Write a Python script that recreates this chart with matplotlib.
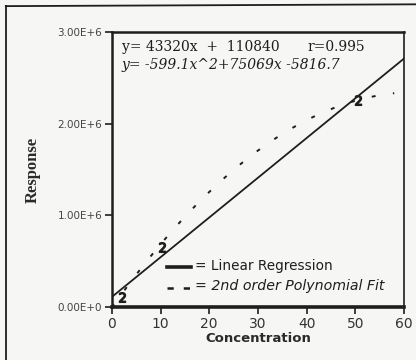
import numpy as np
import matplotlib
matplotlib.use('AGG')
import matplotlib.pyplot as plt
from matplotlib.lines import Line2D

# fit coefficients, as printed on the chart
lin_coef = [43320, 110840]
quad_coef = [-599.1, 75069, -5816.7]
r_value = 0.995

conc = [2.0, 10.3, 50.5]
resp = [0.11e6, 0.65e6, 2.26e6]

x_ticks = [0, 10, 20, 30, 40, 50, 60]
y_ticks = [0, 1e6, 2e6, 3e6]
y_labels = ['0.00E+0', '1.00E+6', '2.00E+6', '3.00E+6']

INK = '#1e1e1e'

fig = plt.figure(figsize=(4.16, 3.6), dpi=100, facecolor='#f6f6f4')
ax = fig.add_axes([0.269, 0.147, 0.702, 0.764])
ax.set_facecolor('#f6f6f4')

xl = np.linspace(0, 60, 200)
ax.plot(xl, np.polyval(lin_coef, xl), color=INK, lw=1.3)
xq = np.linspace(0, 58, 200)
ax.plot(xq, np.polyval(quad_coef, xq), color=INK, lw=1.4, dashes=(2, 9))
ax.plot(conc, resp, ls='none', marker='$2$', ms=7, color=INK)

ax.set_xlim(0, 60)
ax.set_ylim(0, 3e6)
ax.set_xticks(x_ticks)
ax.set_xticklabels([str(v) for v in x_ticks], fontsize=10, color='#333333',
                   family='DejaVu Sans')
ax.set_yticks(y_ticks)
ax.set_yticklabels(y_labels, fontsize=7.5, color='#444444', family='DejaVu Sans')
ax.tick_params(direction='out', length=5, width=1.2, color=INK, pad=2)

for side in ['left', 'top', 'bottom']:
    ax.spines[side].set_linewidth(1.8)
    ax.spines[side].set_color(INK)
ax.spines['bottom'].set_linewidth(2.6)
ax.spines['right'].set_linewidth(1.2)
ax.spines['right'].set_color(INK)

ax.set_xlabel('Concentration', fontsize=9.5, fontweight='bold', color='#2a2a2a',
              family='DejaVu Sans', labelpad=1)
fig.text(33 / 416, 1 - 170 / 360, 'Response', rotation=90, ha='center',
         va='center', fontsize=12, fontweight='bold', color='#2a2a2a',
         family='Liberation Serif')

eq1 = 'y= %dx  +  %d' % (lin_coef[0], lin_coef[1])
eq2 = 'y= -%.1fx^2+%dx -%.1f' % (-quad_coef[0], quad_coef[1], -quad_coef[2])
ax.text(0.034, 0.945, eq1, transform=ax.transAxes, fontsize=10,
        family='DejaVu Serif', color=INK, va='center')
ax.text(0.668, 0.945, 'r=%.3f' % r_value, transform=ax.transAxes, fontsize=10,
        family='DejaVu Serif', color=INK, va='center')
ax.text(0.034, 0.88, eq2, transform=ax.transAxes, fontsize=10,
        family='DejaVu Serif', style='italic', color=INK, va='center')

# legend drawn by hand to keep the "= label" look
ax.add_line(Line2D([0.19, 0.27], [0.145, 0.145], transform=ax.transAxes,
                   color=INK, lw=2.6))
ax.add_line(Line2D([0.19, 0.27], [0.07, 0.07], transform=ax.transAxes,
                   color=INK, lw=1.8, dashes=(2.5, 4)))
ax.text(0.285, 0.15, '= Linear Regression', transform=ax.transAxes,
        fontsize=9.8, family='DejaVu Sans', color=INK, va='center')
ax.text(0.285, 0.075, '= 2nd order Polynomial Fit', transform=ax.transAxes,
        fontsize=10.2, family='DejaVu Sans', style='italic', color=INK,
        va='center')

# border of the scanned box
fig.add_artist(Line2D([0.014, 0.014], [0.983, 0.0], transform=fig.transFigure,
                      color=INK, lw=1.3))
fig.add_artist(Line2D([0.014, 1.0], [0.983, 0.988], transform=fig.transFigure,
                      color=INK, lw=1.3))

fig.savefig('out.png', dpi=100, facecolor=fig.get_facecolor())
